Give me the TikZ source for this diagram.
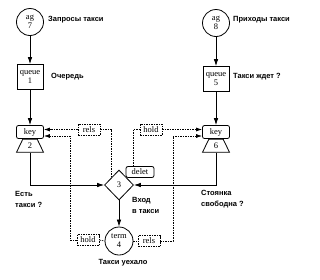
\documentclass[tikz,border=0pt]{standalone}
\usepackage{fontspec}
\setmainfont{Liberation Serif}
\newfontfamily\lab{Liberation Sans}
\usetikzlibrary{shapes.geometric,arrows.meta,calc}
\begin{document}
\begin{tikzpicture}[x=1pt,y=-1pt,
  font=\fontsize{8.5}{9}\selectfont,
  every node/.style={inner sep=0pt},
  gen/.style={circle,draw,line width=0.8pt,minimum size=27pt,align=center},
  qbox/.style={rectangle,draw,line width=0.8pt,minimum width=26pt,minimum height=25pt,align=center},
  keybox/.style={rectangle,draw,line width=0.8pt,rounded corners=2pt,minimum width=27pt,minimum height=13pt},
  numbox/.style={trapezium,draw,line width=0.8pt,trapezium left angle=72,trapezium right angle=72,trapezium stretches=true,minimum width=27pt,minimum height=13pt},
  dbox/.style={rectangle,draw,line width=0.7pt,dash pattern=on 1.5pt off 1pt,minimum width=22pt,minimum height=11pt},
  lbl/.style={font=\lab\bfseries\fontsize{7.5}{11}\selectfont,align=left,anchor=west},
  arr/.style={line width=0.7pt,-{Latex[length=7pt,width=4.5pt]}},
  dsh/.style={line width=0.7pt,dash pattern=on 1.5pt off 1pt},
  darr/.style={dsh,-{Latex[length=6pt,width=4pt]}}
]
\useasboundingbox (0,0) rectangle (320,279);

% generators
\node[gen] (ag7) at (30,22) {ag\\7};
\node[gen] (ag8) at (216,23) {ag\\8};
% queues
\node[qbox] (q1) at (30,77) {queue\\1};
\node[qbox] (q5) at (216,79) {queue\\5};
% keys
\node[keybox] (key2) at (30,132) {key};
\node[numbox,anchor=north] (n2) at (key2.south) {2};
\node[keybox] (key6) at (216,132) {key};
\node[numbox,anchor=north] (n6) at (key6.south) {6};
% decision
\node[diamond,draw,line width=0.8pt,minimum width=29pt,minimum height=30pt] (d3) at (119,185) {3};
\node[keybox,fill=white,minimum width=28pt,minimum height=11pt] (delet) at (140,172) {delet};
% terminator
\node[gen,minimum size=28pt] (t4) at (119,241) {term\\4};
% dashed boxes
\node[dbox] (rels1) at (89,129.5) {rels};
\node[dbox] (hold1) at (151,129.5) {hold};
\node[dbox] (hold2) at (88,240) {hold};
\node[dbox] (rels2) at (149,241) {rels};

% helper coordinates
\coordinate (c2) at (70,136);
\coordinate (c6) at (173,136);

% solid connectors
\draw[arr] (ag7) -- (q1);
\draw[arr] (q1) -- (key2);
\draw[arr] (ag8) -- (q5);
\draw[arr] (q5) -- (key6);
\draw[arr] (n2.south) |- (d3.west);
\draw[arr] (n6.south) |- (d3.east);
\draw[arr] (d3.south) -- (t4.north);

% dashed connectors
\draw[darr] (rels1.west) -- (rels1.west -| key2.east);
\draw[dsh] (rels1.east) -| (d3.north west);
\draw[dsh] ([xshift=-7pt]delet.north) |- (hold1.west);
\draw[darr] (hold1.east) -- (hold1.east -| key6.west);
\draw[darr] (hold2.west) -| (c2) -- (c2 -| key2.east);
\draw[darr] (rels2.east) -| (c6) -- (c6 -| key6.west);
\draw[dsh] (hold2.east) -- (t4.west);
\draw[dsh] (t4.east) -- (rels2.west);

% labels
\node[lbl] (l1) at (48,20) {Запросы такси};
\node[lbl] (l2) at (233,20) {Приходы такси};
\node[lbl] (l3) at (51,77) {Очередь};
\node[lbl] (l4) at (233,77) {Такси ждет ?};
\node[lbl] (l5) at (15,199) {Есть\\такси ?};
\node[lbl] (l6) at (132,205) {Вход\\в такси};
\node[lbl] (l7) at (201,199) {Стоянка\\свободна ?};
\node[lbl,anchor=center] (l8) at (123,263) {Такси уехало};
\end{tikzpicture}
\end{document}
